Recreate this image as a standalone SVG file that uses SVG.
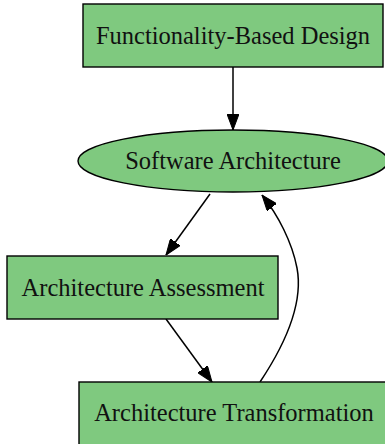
<svg xmlns="http://www.w3.org/2000/svg" width="385" height="444" viewBox="0 0 385 444">
  <style>
    .node { fill: #7fc97f; stroke: #000; stroke-width: 1.4; }
    .label { font-family: "Liberation Serif", "Times New Roman", serif; font-size: 24.5px; fill: #111; text-anchor: middle; }
    .edge { fill: none; stroke: #000; stroke-width: 1.5; }
  </style>
  <defs>
    <marker id="arrow" viewBox="0 0 16 12" refX="16" refY="6" markerWidth="16" markerHeight="12" markerUnits="userSpaceOnUse" orient="auto">
      <polygon points="0,0 16,6 0,12" fill="#000" stroke="#000" stroke-width="1"/>
    </marker>
  </defs>
  <rect width="385" height="444" fill="#fff"/>

  <g id="edges">
    <path class="edge" d="M233,67 L233,130" marker-end="url(#arrow)"/>
    <path class="edge" d="M210,194 L166,255" marker-end="url(#arrow)"/>
    <path class="edge" d="M166,319 L212,382" marker-end="url(#arrow)"/>
    <path class="edge" d="M260,382 C284,346 304,305 297,268 C292,242 278,215 262,195" marker-end="url(#arrow)"/>
  </g>

  <g id="functionality-based-design">
    <rect class="node" x="83" y="4" width="300" height="63"/>
    <text class="label" x="233" y="44">Functionality-Based Design</text>
  </g>

  <g id="software-architecture">
    <ellipse class="node" cx="233" cy="161" rx="155" ry="31"/>
    <text class="label" x="233" y="169">Software Architecture</text>
  </g>

  <g id="architecture-assessment">
    <rect class="node" x="7" y="256" width="271" height="63"/>
    <text class="label" x="143" y="296">Architecture Assessment</text>
  </g>

  <g id="architecture-transformation">
    <rect class="node" x="79" y="382" width="310" height="63"/>
    <text class="label" x="234" y="421">Architecture Transformation</text>
  </g>
</svg>
